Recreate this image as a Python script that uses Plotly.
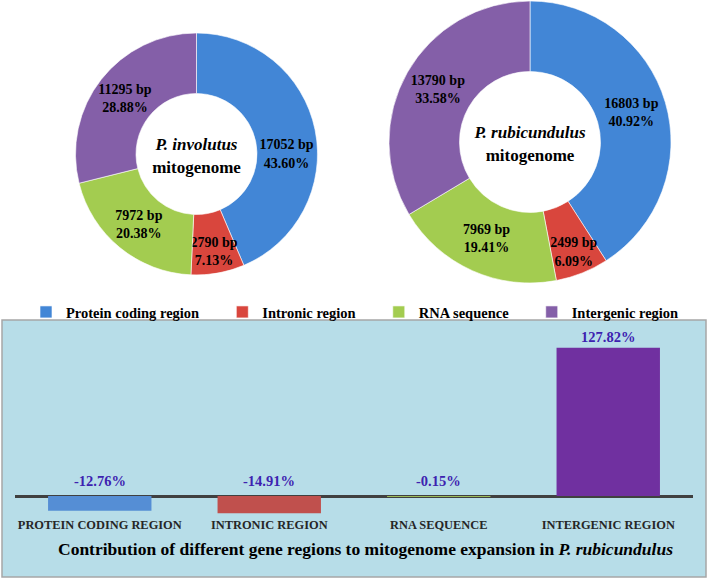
import plotly.graph_objects as go

W, H = 709, 579
SERIF = "Liberation Serif"

# ---- data ----
regions = ["Protein coding region", "Intronic region", "RNA sequence", "Intergenic region"]
involutus_bp = [17052, 2790, 7972, 11295]
involutus_pct = ["43.60%", "7.13%", "20.38%", "28.88%"]
rubicundulus_bp = [16803, 2499, 7969, 13790]
rubicundulus_pct = ["40.92%", "6.09%", "19.41%", "33.58%"]
bar_categories = ["PROTEIN CODING REGION", "INTRONIC REGION", "RNA SEQUENCE", "INTERGENIC REGION"]
expansion_pct = [-12.76, -14.91, -0.15, 127.82]

pie_colors = ["#4286d6", "#d9463d", "#a3cc50", "#845fa8"]
bar_colors = ["#558ed5", "#c0504d", "#9bbb59", "#7030a0"]

LEGEND_PAD = "\u00a0" * 5


def px_x(p):
    return p / W


def px_y(p):
    return 1 - p / H


fig = go.Figure()

# light blue panel behind bar chart
fig.add_shape(type="rect", xref="paper", yref="paper",
              x0=px_x(2), x1=px_x(706), y0=px_y(577), y1=px_y(320),
              fillcolor="#b7dde8", line=dict(color="#a6a6a6", width=1.5), layer="below")


def donut(bp, pct, dom_px, title, show):
    text = [f"{b} bp<br>{p}" for b, p in zip(bp, pct)]
    x0, x1, ytop, ybot = dom_px
    return go.Pie(
        labels=[r + LEGEND_PAD for r in regions], values=bp, text=text, textinfo="text",
        sort=False, direction="clockwise", rotation=0, hole=0.5,
        marker=dict(colors=pie_colors, line=dict(color="rgba(255,255,255,0.6)", width=1)),
        textposition="inside", insidetextorientation="horizontal",
        textfont=dict(family=SERIF, size=14, color="black", weight="bold"),
        title=dict(text=title, position="middle center",
                   font=dict(family=SERIF, size=17, color="black", weight="bold")),
        domain=dict(x=[px_x(x0), px_x(x1)], y=[px_y(ybot), px_y(ytop)]),
        showlegend=show, hoverinfo="label+value",
    )


fig.add_trace(donut(involutus_bp, involutus_pct, (75.5, 317.5, 33, 275),
                    "<i>P. involutus</i><br>mitogenome", True))
fig.add_trace(donut(rubicundulus_bp, rubicundulus_pct, (389, 671, 1, 283),
                    "<i>P. rubicundulus</i><br>mitogenome", False))

# bar chart of expansion contribution
fig.add_trace(go.Bar(
    x=bar_categories, y=expansion_pct, marker=dict(color=bar_colors, line=dict(width=0)),
    width=0.61, showlegend=False, hoverinfo="x+y",
))

for cat, v in zip(bar_categories, expansion_pct):
    fig.add_annotation(x=cat, y=max(v, 0), xref="x", yref="y", text=f"{v:.2f}%",
                       showarrow=False, yanchor="bottom", yshift=5 if v < 0 else 1,
                       font=dict(family=SERIF, size=14.5, color="#3d22b0", weight="bold"))

fig.add_annotation(x=px_x(365), y=px_y(549), xref="paper", yref="paper",
                   text="Contribution of different gene regions to mitogenome expansion in <i>P. rubicundulus</i>",
                   showarrow=False, xanchor="center", yanchor="middle",
                   font=dict(family=SERIF, size=17.5, color="black", weight="bold"))

ymin, ymax = -15.5, 138.8
fig.update_layout(
    width=W, height=H, margin=dict(l=0, r=0, t=0, b=0),
    paper_bgcolor="white", plot_bgcolor="rgba(0,0,0,0)",
    xaxis=dict(domain=[px_x(15), px_x(693)], showgrid=False, showline=False, ticks="",
               tickfont=dict(family=SERIF, size=12.4, color="#262626", weight="bold"),
               ticklabelstandoff=2),
    yaxis=dict(domain=[px_y(514), px_y(335)], range=[ymin, ymax], showgrid=False,
               showticklabels=False, zeroline=True, zerolinecolor="#404040", zerolinewidth=3,
               layer="above traces"),
    legend=dict(orientation="h", x=px_x(26), xanchor="left", y=px_y(312), yanchor="middle",
                bgcolor="rgba(0,0,0,0)",
                font=dict(family=SERIF, size=14.5, color="black", weight="bold")),
    uniformtext=dict(minsize=14, mode="show"),
)

fig.write_html("out.html", config={"displayModeBar": False},
               post_script="document.body.style.margin='0';document.body.style.overflow='hidden';")
